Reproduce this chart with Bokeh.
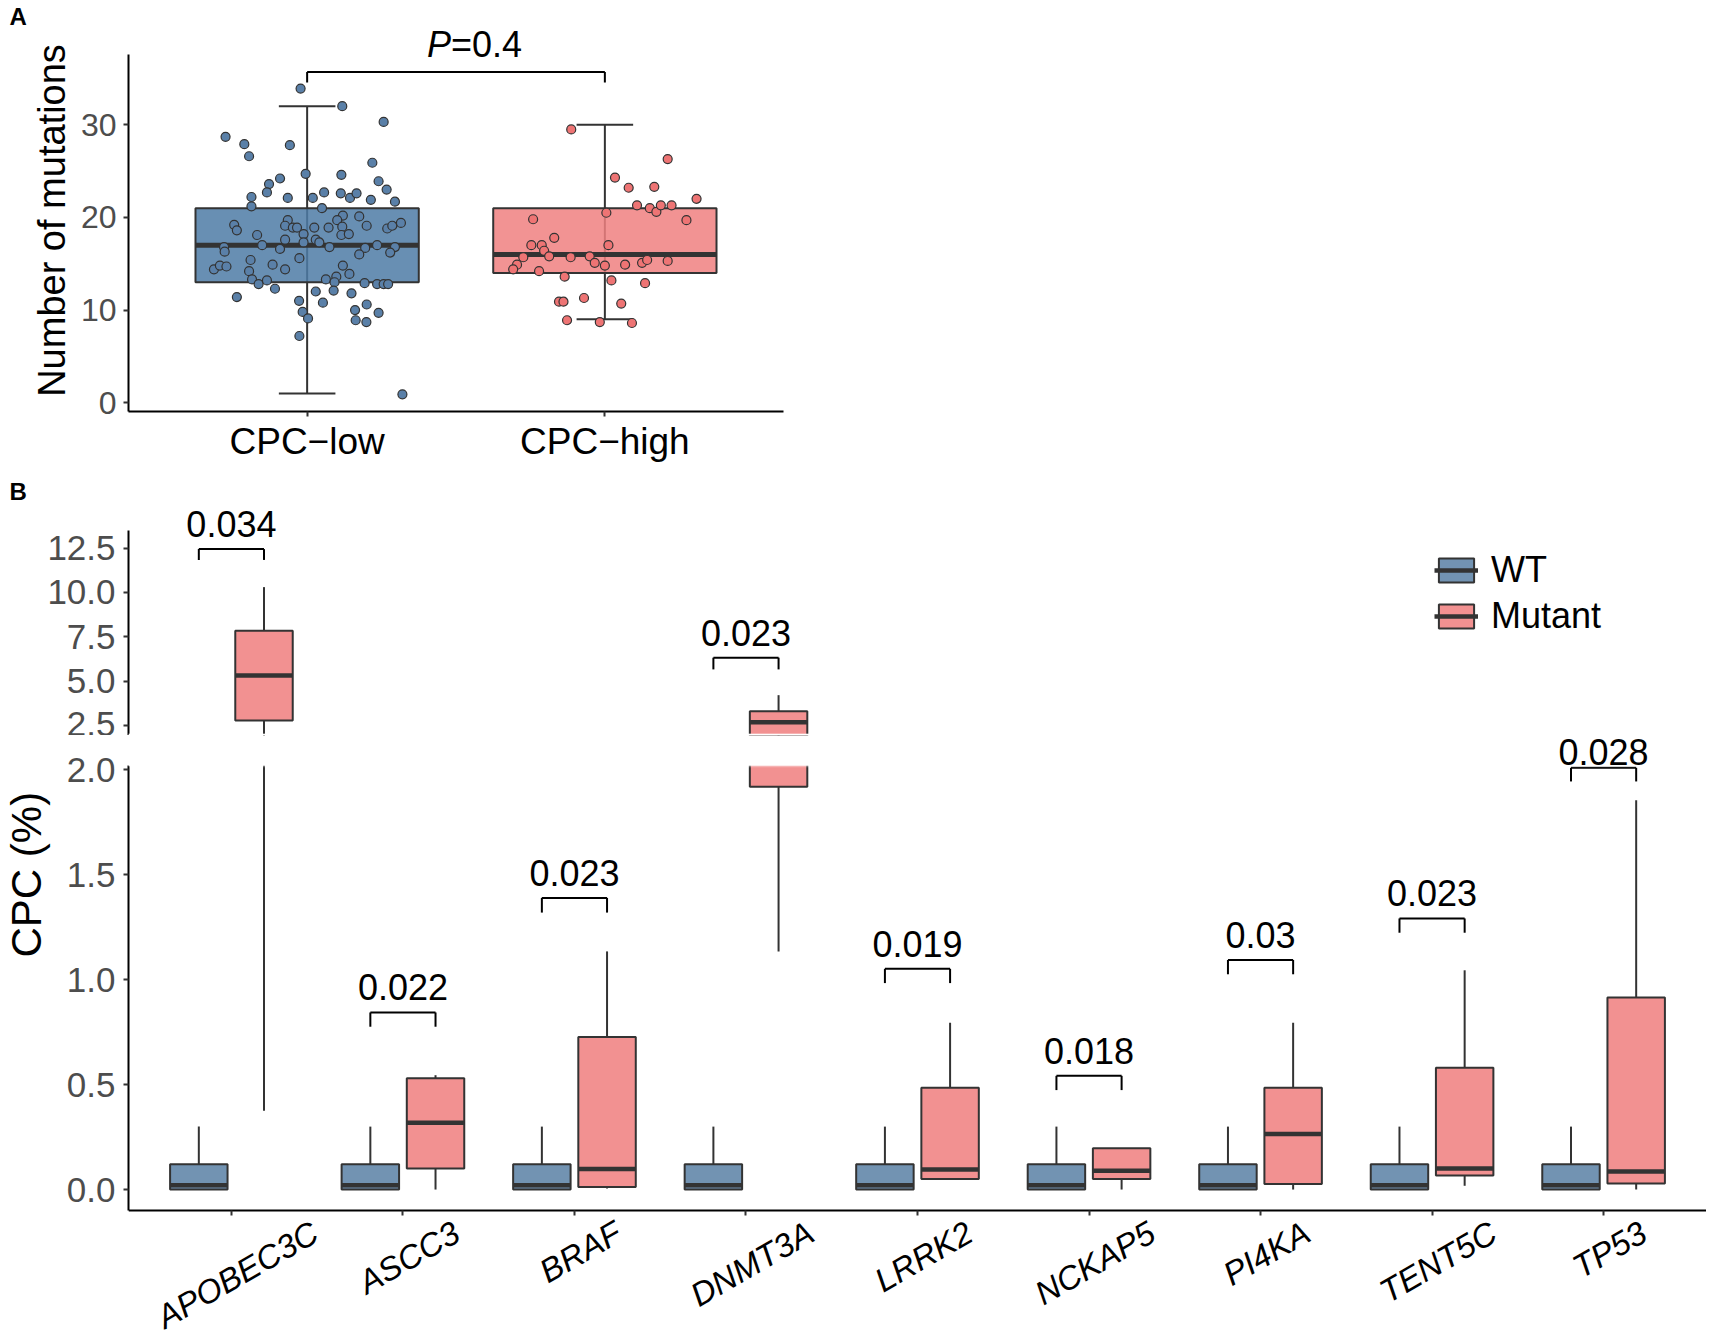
import math
from bokeh.plotting import figure
from bokeh.models import (FactorRange, Range1d, ColumnDataSource, LabelSet, BoxAnnotation,
                          Legend, LegendItem, FixedTicker, PrintfTickFormatter, CDSView,
                          BooleanFilter)
from bokeh.transform import dodge
from bokeh.layouts import column
from bokeh.embed import file_html
from bokeh.resources import INLINE
from bokeh.core.properties import value

FONT = "Liberation Sans"
DARK = "#333333"
TICK_GREY = "#4D4D4D"
SHIFT = 14            # layout is pulled left by this many px to give the y titles room
LEFT = 128 + SHIFT

# ---------------- Panel A data ----------------
groups = ["CPC\u2212low", "CPC\u2212high"]
a_lo = [1, 9]
a_q1 = [13, 14]
a_med = [17, 16]
a_q3 = [21, 21]
a_hi = [32, 30]
a_box_colors = ["#4E7BA6", "#F08080"]
a_point_colors = ["#5A80A8", "#EE7474"]

low_y = [33.9, 32.0, 30.3, 28.7, 27.9, 26.6, 27.8, 25.9, 24.7, 24.6, 24.2, 23.6, 23.9, 23.0,
         22.7, 22.2, 22.1, 22.1, 22.7, 22.6, 22.1, 22.6, 21.9, 21.7, 21.2, 21.0, 20.2, 19.7,
         20.1, 19.7, 19.2, 18.6, 19.1, 18.9, 18.9, 18.9, 18.9, 19.0, 19.1, 18.8, 19.4, 19.1,
         18.1, 18.2, 18.1, 18.2, 17.6, 17.6, 17.3, 17.3, 17.0, 16.8, 16.6, 16.8, 16.7, 17.0,
         16.8, 16.2, 16.0, 16.3, 15.6, 15.4, 14.4, 14.8, 14.7, 14.9, 14.4, 14.8, 14.2, 13.9,
         13.3, 12.8, 13.2, 13.3, 13.6, 13.0, 12.9, 12.8, 12.8, 12.8, 12.3, 12.0, 12.1, 11.4,
         11.8, 11.0, 10.8, 10.6, 10.0, 9.8, 9.7, 9.1, 8.9, 8.7, 7.2, 0.9]
low_dx = [-0.022, 0.118, 0.257, -0.274, -0.211, -0.195, -0.058, 0.219, -0.005, 0.115, -0.091,
          -0.128, 0.240, 0.267, -0.135, -0.187, -0.065, 0.019, 0.057, 0.113, 0.144, 0.166,
          0.214, 0.295, -0.187, 0.050, 0.120, 0.101, 0.175, -0.065, -0.245, -0.236, -0.074,
          -0.048, -0.034, 0.024, 0.072, 0.118, 0.200, 0.269, 0.315, 0.286, -0.168, -0.012,
          0.115, 0.140, -0.074, 0.029, -0.012, 0.041, -0.151, -0.279, -0.091, 0.075, 0.195,
          0.235, 0.295, 0.279, 0.175, -0.277, -0.026, -0.190, -0.313, -0.293, -0.271, -0.116,
          -0.074, 0.120, -0.195, 0.142, -0.185, -0.163, -0.135, 0.063, 0.098, 0.092, 0.193,
          0.235, 0.257, 0.272, -0.108, 0.029, 0.089, -0.236, 0.149, -0.027, 0.053, 0.200,
          0.161, -0.015, 0.240, 0.003, 0.163, 0.199, -0.026, 0.320]
high_y = [29.5, 26.3, 24.3, 23.2, 23.3, 22.0, 21.3, 21.0, 20.6, 21.3, 21.3, 20.5, 19.8, 19.7,
          17.8, 17.0, 17.0, 16.4, 15.8, 17.0, 15.7, 14.9, 14.4, 14.2, 15.7, 15.8, 15.1, 14.8,
          14.9, 15.1, 15.4, 15.3, 13.6, 13.2, 12.9, 11.3, 10.9, 10.9, 10.7, 8.9, 8.7, 8.6]
high_dx = [-0.113, 0.211, 0.034, 0.080, 0.166, 0.308, 0.108, 0.151, 0.173, 0.188, 0.224, 0.005,
           -0.241, 0.274, -0.170, -0.247, -0.212, -0.204, -0.187, 0.012, -0.274, -0.295,
           -0.308, -0.221, -0.115, -0.051, -0.034, 0.000, 0.068, 0.125, 0.142, 0.211, -0.135,
           0.022, 0.135, -0.070, -0.154, -0.139, 0.055, -0.127, -0.017, 0.091]
a_bracket_y = 35.68
a_bracket_tip = 34.57
a_p_italic = "P"
a_p_rest = "=0.4"
a_ylim = (-0.95, 40.28)
a_axis_span = (-0.95, 37.53)

# ---------------- Panel B data ----------------
genes = ["APOBEC3C", "ASCC3", "BRAF", "DNMT3A", "LRRK2", "NCKAP5", "PI4KA", "TENT5C", "TP53"]
wt_lo = [0, 0, 0, 0, 0, 0, 0, 0, 0]
wt_q1 = [0, 0, 0, 0, 0, 0, 0, 0, 0]
wt_med = [0.02, 0.02, 0.02, 0.02, 0.02, 0.02, 0.02, 0.02, 0.02]
wt_q3 = [0.12, 0.12, 0.12, 0.12, 0.12, 0.12, 0.12, 0.12, 0.12]
wt_hi = [0.30, 0.30, 0.30, 0.30, 0.30, 0.30, 0.30, 0.30, 0.30]
mut_lo = [0.375, 0.0, 0.005, 1.135, 0.05, 0.0, 0.0, 0.018, 0.0]
mut_q1 = [2.80, 0.10, 0.012, 1.92, 0.05, 0.05, 0.026, 0.067, 0.029]
mut_med = [5.33, 0.318, 0.098, 2.70, 0.095, 0.09, 0.265, 0.10, 0.086]
mut_q3 = [7.85, 0.53, 0.727, 3.31, 0.485, 0.197, 0.485, 0.58, 0.915]
mut_hi = [10.3, 0.545, 1.135, 4.22, 0.795, 0.197, 0.795, 1.045, 1.855]
p_values = ["0.034", "0.022", "0.023", "0.023", "0.019", "0.018", "0.03", "0.023", "0.028"]
bracket_y = [12.44, 0.844, 1.39, 6.33, 1.052, 0.542, 1.094, 1.292, 2.01]
bracket_tip = [11.83, 0.776, 1.32, 5.67, 0.984, 0.474, 1.026, 1.224, 1.945]
series = ["WT", "Mutant"]
series_colors = ["#7293B2", "#F29191"]
upper_ylim = (1.95, 14.95)
upper_axis_span = (1.95, 13.47)
lower_ylim = (-0.667, 2.164)
lower_axis_span = (-0.1, 2.02)
upper_ticks = [2.5, 5.0, 7.5, 10.0, 12.5]
lower_ticks = [0.0, 0.5, 1.0, 1.5, 2.0]


def style_common(p):
    p.outline_line_color = None
    p.xgrid.visible = False
    p.ygrid.visible = False
    p.background_fill_color = "white"
    p.border_fill_color = "white"


def style_axis(ax, size, color):
    ax.axis_line_color = "black"
    ax.axis_line_width = 2
    ax.major_tick_line_color = DARK
    ax.major_tick_line_width = 2
    ax.major_tick_out = 5
    ax.major_tick_in = 0
    ax.minor_tick_line_color = None
    ax.major_label_text_font = FONT
    ax.major_label_text_font_size = size
    ax.major_label_text_color = color


def style_title(t, size, style, align, offset, standoff):
    t.text_font = FONT
    t.text_font_size = size
    t.text_font_style = style
    t.text_color = "black"
    t.align = align
    t.offset = offset
    t.standoff = standoff


# ================= Panel A =================
xa = FactorRange(factors=groups, range_padding=0.1, range_padding_units="absolute")
pa = figure(x_range=xa, y_range=Range1d(*a_ylim), frame_width=655, frame_height=382,
            min_border_left=LEFT, min_border_right=10, min_border_top=29, min_border_bottom=64,
            title="A", output_backend="svg", toolbar_location=None)
style_common(pa)
style_title(pa.title, "24px", "bold", "left", -119, 0)
style_axis(pa.yaxis[0], "32px", TICK_GREY)
style_axis(pa.xaxis[0], "37px", "black")
pa.yaxis.bounds = a_axis_span
pa.yaxis.ticker = FixedTicker(ticks=[0, 10, 20, 30])
pa.yaxis.major_label_standoff = 7
pa.xaxis.major_label_standoff = 4
pa.yaxis.axis_label = "Number of mutations"
pa.yaxis.axis_label_text_font = FONT
pa.yaxis.axis_label_text_font_size = "38px"
pa.yaxis.axis_label_text_font_style = "normal"
pa.yaxis.axis_label_text_color = "black"
pa.yaxis.axis_label_standoff = 5

src_a = ColumnDataSource(dict(g=groups, lo=a_lo, q1=a_q1, med=a_med, q3=a_q3, hi=a_hi,
                              fill=a_box_colors))
pa.segment(x0="g", y0="lo", x1="g", y1="hi", source=src_a, line_color=DARK, line_width=2)
for yname in ("lo", "hi"):
    pa.segment(x0=dodge("g", -0.095, range=xa), y0=yname, x1=dodge("g", 0.095, range=xa),
               y1=yname, source=src_a, line_color=DARK, line_width=2)
pa.vbar(x="g", width=0.75, bottom="q1", top="q3", source=src_a, fill_color="fill",
        fill_alpha=0.85, line_color=DARK, line_width=2)
pa.segment(x0=dodge("g", -0.375, range=xa), y0="med", x1=dodge("g", 0.375, range=xa),
           y1="med", source=src_a, line_color=DARK, line_width=5)

src_low = ColumnDataSource(dict(x=[[groups[0], d] for d in low_dx], y=low_y))
src_high = ColumnDataSource(dict(x=[[groups[1], d] for d in high_dx], y=high_y))
pa.scatter(x="x", y="y", source=src_low, size=9, fill_color=a_point_colors[0],
           line_color=DARK, line_width=1.2)
pa.scatter(x="x", y="y", source=src_high, size=9, fill_color=a_point_colors[1],
           line_color=DARK, line_width=1.2)

src_ab = ColumnDataSource(dict(x0=[groups[0]], x1=[groups[1]], y=[a_bracket_y], tip=[a_bracket_tip]))
pa.segment(x0="x0", y0="y", x1="x1", y1="y", source=src_ab, line_color="black", line_width=2)
pa.segment(x0="x0", y0="tip", x1="x0", y1="y", source=src_ab, line_color="black", line_width=2)
pa.segment(x0="x1", y0="tip", x1="x1", y1="y", source=src_ab, line_color="black", line_width=2)

src_ap = ColumnDataSource(dict(x=[[groups[0], 0.5]], y=[a_bracket_y], t1=[a_p_italic], t2=[a_p_rest]))
pa.add_layout(LabelSet(x="x", y="y", text="t1", source=src_ap, x_offset=-5, y_offset=15,
                       text_align="right", text_baseline="alphabetic", text_font=value(FONT),
                       text_font_size="36px", text_font_style="italic", text_color="black"))
pa.add_layout(LabelSet(x="x", y="y", text="t2", source=src_ap, x_offset=-5, y_offset=15,
                       text_align="left", text_baseline="alphabetic", text_font=value(FONT),
                       text_font_size="36px", text_color="black"))

# ================= Panel B =================
xb = FactorRange(factors=genes, range_padding=0.1, range_padding_units="absolute")
pu = figure(x_range=xb, y_range=Range1d(*upper_ylim), frame_width=1578, frame_height=231,
            min_border_left=LEFT, min_border_right=0, min_border_top=27, min_border_bottom=0,
            x_axis_location=None, title="B", output_backend="svg", toolbar_location=None)
pl = figure(x_range=xb, y_range=Range1d(*lower_ylim), frame_width=1578, frame_height=594,
            min_border_left=LEFT, min_border_right=0, min_border_top=0, min_border_bottom=6,
            title="CPC (%)", title_location="left", output_backend="svg",
            toolbar_location=None)
style_title(pu.title, "24px", "bold", "left", -119, 0)
style_title(pl.title, "42px", "normal", "left", 372, 24)
pl.title.vertical_align = "top"
for p, ticks, span in ((pu, upper_ticks, upper_axis_span), (pl, lower_ticks, lower_axis_span)):
    style_common(p)
    style_axis(p.yaxis[0], "35px", TICK_GREY)
    p.yaxis.ticker = FixedTicker(ticks=ticks)
    p.yaxis.formatter = PrintfTickFormatter(format="%.1f")
    p.yaxis.major_label_standoff = 8
    p.yaxis.bounds = span
style_axis(pl.xaxis[0], "0px", None)
pl.xaxis.major_label_standoff = 0
pl.xaxis.fixed_location = lower_axis_span[0]

src_wt = ColumnDataSource(dict(gene=genes, lo=wt_lo, q1=wt_q1, med=wt_med, q3=wt_q3, hi=wt_hi))
src_mut = ColumnDataSource(dict(gene=genes, lo=mut_lo, q1=mut_q1, med=mut_med, q3=mut_q3, hi=mut_hi))
src_sig = ColumnDataSource(dict(gene=genes, y=bracket_y, tip=bracket_tip, label=p_values))


def rows_in(lo_vals, hi_vals, ymin, ymax):
    return CDSView(filter=BooleanFilter([h >= ymin and l <= ymax
                                         for l, h in zip(lo_vals, hi_vals)]))


OFF = 0.19
BW = 0.335
for p, (ymin, ymax) in ((pu, upper_ylim), (pl, lower_ylim)):
    for src, lo, q1, med, q3, hi, off, col in (
            (src_wt, wt_lo, wt_q1, wt_med, wt_q3, wt_hi, -OFF, series_colors[0]),
            (src_mut, mut_lo, mut_q1, mut_med, mut_q3, mut_hi, OFF, series_colors[1])):
        # each panel only draws the parts of a box that reach into its value range
        p.segment(x0=dodge("gene", off, range=xb), y0="lo", x1=dodge("gene", off, range=xb),
                  y1="hi", source=src, view=rows_in(lo, hi, ymin, ymax),
                  line_color=DARK, line_width=2)
        p.vbar(x=dodge("gene", off, range=xb), width=BW, bottom="q1", top="q3",
               source=src, view=rows_in(q1, q3, ymin, ymax), fill_color=col,
               line_color=DARK, line_width=2)
        p.segment(x0=dodge("gene", off - BW / 2, range=xb), y0="med",
                  x1=dodge("gene", off + BW / 2, range=xb), y1="med", source=src,
                  view=rows_in(med, med, ymin, ymax), line_color=DARK, line_width=4.5)
    if p is pu:
        keep = [v > lower_axis_span[1] for v in bracket_y]
    else:
        keep = [v <= lower_axis_span[1] for v in bracket_y]
    sview = CDSView(filter=BooleanFilter(keep))
    p.segment(x0=dodge("gene", -OFF, range=xb), y0="y", x1=dodge("gene", OFF, range=xb),
              y1="y", source=src_sig, view=sview, line_color="black", line_width=2)
    for off in (-OFF, OFF):
        p.segment(x0=dodge("gene", off, range=xb), y0="tip", x1=dodge("gene", off, range=xb),
                  y1="y", source=src_sig, view=sview, line_color="black", line_width=2)

# the axis break: blank each panel beyond its own axis span
pl.add_layout(BoxAnnotation(bottom=lower_axis_span[1], fill_color="white", fill_alpha=1.0,
                            line_color="white", line_width=3))
pu.add_layout(BoxAnnotation(top=upper_axis_span[0] + 0.08, fill_color="white", fill_alpha=1.0,
                            line_color="white", line_width=2))

# p-value labels, each in the panel holding its bracket
for p, keepf in ((pu, lambda v: v > lower_axis_span[1]), (pl, lambda v: v <= lower_axis_span[1])):
    idx = [i for i, v in enumerate(bracket_y) if keepf(v)]
    s = ColumnDataSource(dict(gene=[genes[i] for i in idx], y=[bracket_y[i] for i in idx],
                              label=[p_values[i] for i in idx],
                              off=[3 if 1.9 < bracket_y[i] <= lower_axis_span[1] else 12
                                   for i in idx]))
    p.add_layout(LabelSet(x="gene", y="y", text="label", source=s, y_offset="off",
                          text_align="center", text_baseline="alphabetic", text_font=value(FONT),
                          text_font_size="36px", text_color="black"))

# legend (hidden proxy renderers carry the full series data)
leg_items = []
for name, src, col in zip(series, (src_wt, src_mut), series_colors):
    b = pu.vbar(x="gene", width=BW, bottom="q1", top="q3", source=src, fill_color=col,
                line_color=DARK, line_width=2, visible=False)
    m = pu.segment(x0="gene", y0="med", x1="gene", y1="med", source=src, line_color=DARK,
                   line_width=4.5, visible=False)
    leg_items.append(LegendItem(label=name, renderers=[b, m]))
legend = Legend(items=leg_items, location=(1306, 98), glyph_width=44, glyph_height=30,
                label_standoff=13, spacing=4, padding=0, margin=0, border_line_color=None,
                background_fill_alpha=0, label_text_font=FONT, label_text_font_size="36px",
                label_text_color="black")
pu.add_layout(legend)

# rotated italic gene labels, centred under each tick with aligned tops
CHAR_W = {"A": .667, "B": .667, "C": .722, "D": .722, "E": .667, "F": .611, "I": .278,
          "K": .667, "L": .556, "M": .833, "N": .722, "O": .778, "P": .667, "R": .722,
          "S": .667, "T": .611}
LAB_FS = 33
ang = math.radians(30)
yoffs = []
for g in genes:
    L = sum(CHAR_W.get(c, 0.556) for c in g) * LAB_FS
    bh = L * math.sin(ang) + 0.716 * LAB_FS * math.cos(ang)
    yoffs.append(-(9 + bh / 2))
src_xl = ColumnDataSource(dict(gene=genes, y=[lower_axis_span[0]] * len(genes), yoff=yoffs))
pl.add_layout(LabelSet(x="gene", y="y", text="gene", source=src_xl, y_offset="yoff",
                       x_offset=6, angle=30, angle_units="deg", text_align="center",
                       text_baseline="middle", text_font=value(FONT),
                       text_font_size=f"{LAB_FS}px", text_font_style="italic",
                       text_color="black"))

layout = column(pa, pu, pl, styles={"margin-left": f"-{SHIFT}px"})
open("out.html", "w").write(file_html(layout, INLINE))
